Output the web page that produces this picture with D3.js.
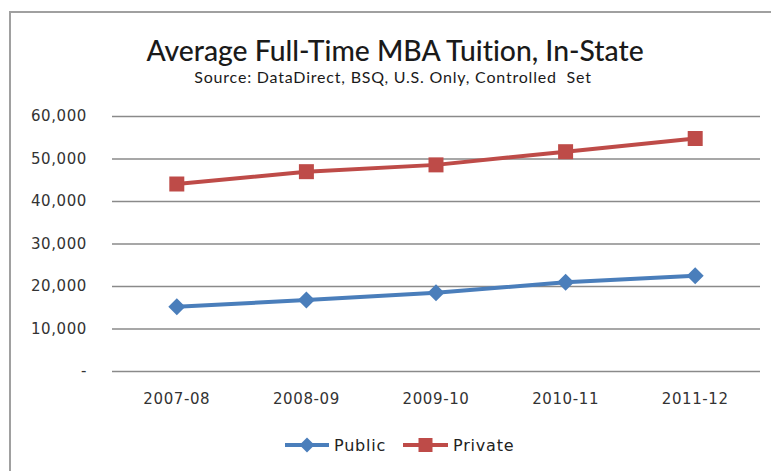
<!DOCTYPE html>
<html><head><meta charset="utf-8">
<script src="https://cdn.jsdelivr.net/npm/d3@7"></script>
<style>body{margin:0;background:#fff}svg{display:block}text{font-variant-ligatures:none;white-space:pre}</style>
</head><body>
<svg id="c" width="771" height="471"></svg>
<script>
const categories = ["2007-08","2008-09","2009-10","2010-11","2011-12"];
const publicValues = [15100, 16700, 18400, 20900, 22400];
const privateValues = [44000, 46900, 48500, 51600, 54700];
const yTicks = [0, 10000, 20000, 30000, 40000, 50000, 60000];
const seriesNames = ["Public", "Private"];

const svg = d3.select("#c");
const W = 771, H = 471;
const x = d3.scaleBand().domain(categories).range([112, 760]);
const y = d3.scaleLinear().domain([0, 60000]).range([371, 116]);

// frame (top and left)
svg.append("path").attr("d", `M10,${H} L10,12 L${W},12`).attr("fill","none")
  .attr("stroke","#a0a0a0").attr("stroke-width",2);

svg.append("text").attr("x",395).attr("y",61).attr("text-anchor","middle")
  .attr("font-family","Lato").attr("font-size",28.3).attr("font-weight",500).attr("fill","#1a1a1a")
  .text("Average Full-Time MBA Tuition, In-State");
svg.append("text").attr("x",393).attr("y",83).attr("text-anchor","middle")
  .attr("font-family","Lato").attr("font-size",16).attr("letter-spacing","0.8px").attr("fill","#1a1a1a")
  .text("Source: DataDirect, BSQ, U.S. Only, Controlled  Set");

// gridlines
const fmt = v => v === 0 ? "-" : d3.format(",")(v);
const yAxis = d3.axisLeft(y).tickValues(yTicks).tickSize(-(760-112)).tickPadding(25).tickFormat(fmt);
const gy = svg.append("g").attr("transform","translate(112,0)").call(yAxis);
gy.select(".domain").remove();
gy.selectAll(".tick line").attr("stroke","#8a8a8a").attr("stroke-width",1.5);
gy.selectAll(".tick text").attr("font-family","DejaVu Sans").attr("font-size",15)
  .attr("letter-spacing","0.6px").attr("fill","#333");

const xAxis = d3.axisBottom(x).tickSize(0).tickPadding(22);
const gx = svg.append("g").attr("transform","translate(0,371)").call(xAxis);
gx.select(".domain").remove();
gx.selectAll(".tick text").attr("font-family","DejaVu Sans").attr("font-size",15)
  .attr("letter-spacing","0.6px").attr("fill","#333");

const cx = d => x(d) + x.bandwidth()/2;
const colors = {Public:"#4a7ebb", Private:"#be4b48"};
const line = d3.line().x(d => cx(d.c)).y(d => y(d.v));

const diamond = r => `M0,${-r}L${r},0L0,${r}L${-r},0Z`;
const square = r => `M${-r},${-r}H${r}V${r}H${-r}Z`;

function drawSeries(name, vals, shape){
  const data = categories.map((c,i)=>({c, v: vals[i]}));
  svg.append("path").datum(data).attr("d", line).attr("fill","none")
    .attr("stroke", colors[name]).attr("stroke-width",4).attr("stroke-linejoin","round");
  svg.selectAll(null).data(data).enter().append("path")
    .attr("d", shape === "square" ? square(7.5) : diamond(8.5))
    .attr("transform", d => `translate(${cx(d.c)},${y(d.v)})`)
    .attr("fill", colors[name]);
}
drawSeries("Private", privateValues, "square");
drawSeries("Public", publicValues, "diamond");

// legend
const leg = [
  {name:"Public", x0:285, x1:329, shape:"diamond"},
  {name:"Private", x0:403, x1:448, shape:"square"}
];
leg.forEach(l=>{
  const g = svg.append("g");
  g.append("line").attr("x1",l.x0).attr("x2",l.x1).attr("y1",445).attr("y2",445)
    .attr("stroke",colors[l.name]).attr("stroke-width",4);
  g.append("path").attr("d", l.shape === "square" ? square(7) : diamond(7.5))
    .attr("transform",`translate(${(l.x0+l.x1)/2},445)`).attr("fill",colors[l.name]);
  g.append("text").attr("x",l.x1+5).attr("y",451).attr("font-family","DejaVu Sans")
    .attr("font-size",16).attr("letter-spacing","0.8px").attr("fill","#222").text(l.name);
});
</script>
</body></html>
